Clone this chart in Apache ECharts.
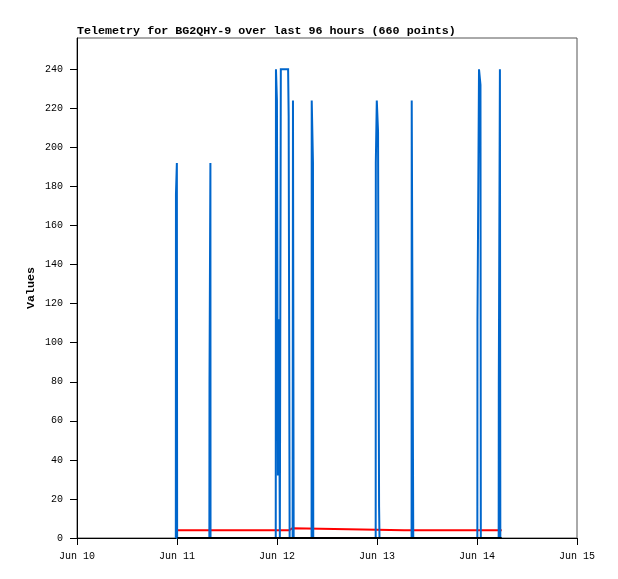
<!DOCTYPE html>
<html>
<head>
<meta charset="utf-8">
<script src="https://cdn.jsdelivr.net/npm/echarts@6/dist/echarts.min.js"></script>
<style>html,body{margin:0;padding:0;background:#fff;}#c{width:618px;height:579px;}</style>
</head>
<body>
<div id="c"></div>
<script>
var titleText = 'Telemetry for BG2QHY-9 over last 96 hours (660 points)';
var yAxisName = 'Values';
var yTicks = [0, 20, 40, 60, 80, 100, 120, 140, 160, 180, 200, 220, 240];
var xTickDates = ['2024-06-10 00:00', '2024-06-11 00:00', '2024-06-12 00:00', '2024-06-13 00:00', '2024-06-14 00:00', '2024-06-15 00:00'];
var monthNames = ['Jan','Feb','Mar','Apr','May','Jun','Jul','Aug','Sep','Oct','Nov','Dec'];

var blueSeries = [
  ['2024-06-10 23:43', 0], ['2024-06-10 23:45', 176], ['2024-06-10 23:58', 192], ['2024-06-11 00:02', 0],
  ['2024-06-11 07:46', 0], ['2024-06-11 07:48', 80], ['2024-06-11 08:01', 192], ['2024-06-11 08:03', 0],
  ['2024-06-11 23:42', 0], ['2024-06-11 23:45', 240], ['2024-06-11 23:59', 224], ['2024-06-12 00:13', 32],
  ['2024-06-12 00:27', 112], ['2024-06-12 00:41', 0], ['2024-06-12 00:55', 240], ['2024-06-12 02:40', 240],
  ['2024-06-12 02:48', 216], ['2024-06-12 03:02', 0], ['2024-06-12 03:45', 0], ['2024-06-12 03:50', 224],
  ['2024-06-12 04:00', 0],
  ['2024-06-12 08:18', 0], ['2024-06-12 08:20', 224], ['2024-06-12 08:38', 192], ['2024-06-12 08:42', 0],
  ['2024-06-12 23:41', 0], ['2024-06-12 23:43', 192], ['2024-06-12 23:57', 224], ['2024-06-13 00:15', 208],
  ['2024-06-13 00:30', 16], ['2024-06-13 00:36', 0],
  ['2024-06-13 08:18', 0], ['2024-06-13 08:20', 224], ['2024-06-13 08:40', 224], ['2024-06-13 08:42', 0],
  ['2024-06-14 00:05', 0], ['2024-06-14 00:07', 112], ['2024-06-14 00:29', 240], ['2024-06-14 00:50', 232],
  ['2024-06-14 00:55', 0],
  ['2024-06-14 05:12', 0], ['2024-06-14 05:14', 80], ['2024-06-14 05:30', 240], ['2024-06-14 05:36', 0]
];
var redSeries = [
  ['2024-06-11 00:05', 4], ['2024-06-12 02:58', 4], ['2024-06-12 03:00', 5], ['2024-06-12 03:40', 5],
  ['2024-06-12 03:42', 4], ['2024-06-13 06:30', 4], ['2024-06-13 06:36', 5], ['2024-06-13 06:44', 4],
  ['2024-06-14 05:56', 4]
];
var blackSeries = [
  ['2024-06-11 00:05', 0], ['2024-06-14 05:56', 0]
];

function ts(s) {
  var p = s.split(/[- :]/).map(Number);
  return new Date(p[0], p[1] - 1, p[2], p[3], p[4]).getTime();
}
function conv(arr) { return arr.map(function (d) { return [ts(d[0]), d[1]]; }); }

var DAY = 86400000;
var chart = echarts.init(document.getElementById('c'), null, { renderer: 'canvas' });
var mono = 'Liberation Mono, DejaVu Sans Mono, monospace';
chart.setOption({
  animation: false,
  backgroundColor: '#fff',
  title: {
    text: titleText, left: 77, top: 25, padding: 0,
    textStyle: { fontFamily: mono, fontSize: 11.7, fontWeight: 'bold', color: '#000' }
  },
  grid: { left: 77, right: 41, top: 38, bottom: 41, show: true, borderColor: '#555', borderWidth: 1, backgroundColor: 'transparent' },
  xAxis: {
    type: 'value',
    min: ts(xTickDates[0]), max: ts(xTickDates[xTickDates.length - 1]),
    interval: DAY,
    axisLine: { lineStyle: { color: '#000', width: 1 } },
    axisTick: { show: true, inside: false, length: 7, lineStyle: { color: '#000' } },
    axisLabel: {
      margin: 13, color: '#000', fontFamily: mono, fontSize: 10, showMinLabel: true, showMaxLabel: true,
      formatter: function (v) { var d = new Date(v); return monthNames[d.getMonth()] + ' ' + d.getDate(); }
    },
    splitLine: { show: false }
  },
  yAxis: {
    type: 'value', min: 0, max: 256, interval: 16,
    name: yAxisName, nameLocation: 'middle', nameGap: 40, nameMoveOverlap: false,
    nameTextStyle: { fontFamily: mono, fontSize: 11.7, fontWeight: 'bold', color: '#000' },
    axisLine: { show: true, lineStyle: { color: '#000', width: 1 } },
    axisTick: { show: true, inside: false, length: 7, lineStyle: { color: '#000' }, customValues: yTicks },
    axisLabel: { customValues: yTicks, margin: 14, color: '#000', fontFamily: mono, fontSize: 10 },
    splitLine: { show: false }
  },
  series: [
    { type: 'line', data: conv(redSeries), showSymbol: false, z: 2, step: 'end', lineStyle: { color: '#ff0000', width: 2 }, itemStyle: { color: '#ff0000' } },
    { type: 'line', data: conv(blueSeries), showSymbol: false, z: 3, step: 'end', lineStyle: { color: '#0066cc', width: 2, join: 'miter' }, itemStyle: { color: '#0066cc' } },
    { type: 'line', data: conv(blackSeries), showSymbol: false, z: 4, lineStyle: { color: '#000000', width: 2 }, itemStyle: { color: '#000' } }
  ]
});
</script>
</body>
</html>
